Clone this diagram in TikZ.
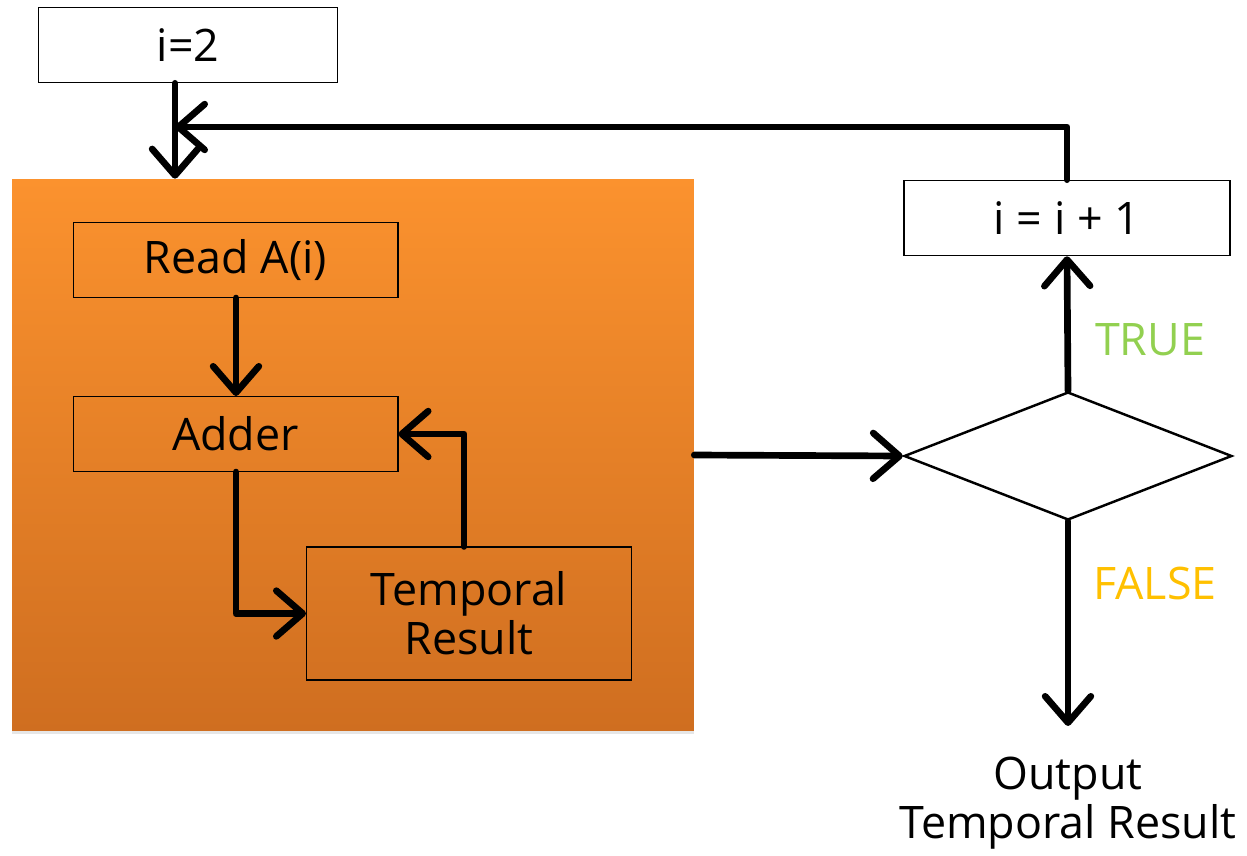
\documentclass[tikz,border=0pt]{standalone}
\usepackage{fontspec}
\setmainfont{Open Sans}
\usepackage{xcolor}
\usetikzlibrary{arrows.meta, positioning, shapes.geometric, shadows}

\definecolor{orgtop}{HTML}{FB922E}
\definecolor{orgbot}{HTML}{CF6E20}
\definecolor{truegreen}{HTML}{92D050}
\definecolor{falseamber}{HTML}{FFC000}

\begin{document}
\begin{tikzpicture}[
  x=0.02cm, y=-0.02cm,
  font=\fontsize{25.5}{30}\selectfont,
  >={Straight Barb[length=15pt, width=26pt, line cap=round, line join=round]},
  wbox/.style={
    draw, line width=0.9pt, fill=white, align=center, inner sep=0pt,
    minimum width=5.98cm, minimum height=1.5cm
  },
  obox/.style={
    draw, line width=0.6pt, align=center, inner sep=0pt,
    minimum width=6.5cm, minimum height=1.5cm
  },
  arr/.style={->, line width=3.8pt, line cap=round, line join=round},
  lab/.style={font=\fontsize{25.5}{30}\selectfont}
]
  \useasboundingbox (0,0) rectangle (1247,855);

  % orange block
  \node[draw=none, top color=orgtop, bottom color=orgbot, inner sep=0pt,
    minimum width=13.64cm, minimum height=11.04cm,
    drop shadow={opacity=0.2, shadow xshift=0pt, shadow yshift=-1.5pt}]
    (blk) at (353,455) {};

  \node[wbox] (init) at (188,45) {i=2};
  \node[obox] (read) at (235.5,260) {Read A(i)};
  \node[obox] (add) at (235.5,434) {Adder};
  \node[obox, minimum height=2.66cm] (tmp) at (469,613.5) {Temporal\\[-2pt]Result};

  \node[wbox, minimum width=6.52cm] (inc) at (1067,218) {i = i + 1};
  \node[draw, line width=1.4pt, diamond, aspect=2.55, inner sep=0pt,
    minimum width=6.56cm, minimum height=2.56cm] (cond) at (1068,456) {};

  \node[lab, text=truegreen] (tlab) at (1150,340) {TRUE};
  \node[lab, text=falseamber] (flab) at (1155,583) {FALSE};
  \node[lab, align=center] (out) at (1068,803) {Output\\[-2pt]Temporal Result};

  \coordinate (top) at (175,127);

  \draw[arr] (init.south -| top) -- (blk.north -| top);
  \draw[arr] (inc.north) |- (top);
  \draw[arr] (read.south -| 236,0) -- (add.north -| 236,0);
  \draw[arr] (add.south -| 236,0) |- (tmp.west);
  \draw[arr] (tmp.north -| 464,0) |- (add.east);
  \draw[arr] (blk.east) -- (cond.west);
  \draw[arr] (cond.north) -- (inc.south);
  \draw[arr, shorten >=14pt] (cond.south) -- (out.north);
\end{tikzpicture}
\end{document}
